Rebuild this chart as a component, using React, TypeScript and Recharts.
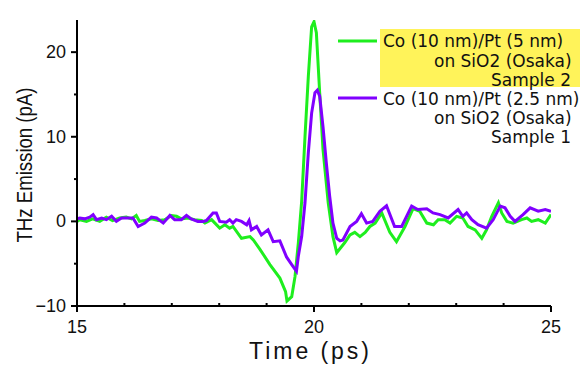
import React from 'react';
import { LineChart, Line, XAxis, YAxis } from 'recharts';

const greenTime = [
  15.0, 15.06, 15.2, 15.33, 15.48, 15.62, 15.75, 15.9, 16.04, 16.15,
  16.25, 16.32, 16.43, 16.57, 16.71, 16.85, 16.99, 17.1, 17.2, 17.34,
  17.48, 17.63, 17.7, 17.84, 18.01, 18.12, 18.22, 18.29, 18.47, 18.65,
  18.72, 18.86, 19.07, 19.28, 19.4, 19.43, 19.53, 19.6, 19.67, 19.74,
  19.81, 19.88, 19.95, 20.0, 20.05, 20.12, 20.19, 20.3, 20.4, 20.48,
  20.65, 20.76, 20.86, 20.97, 21.08, 21.18, 21.29, 21.43, 21.6, 21.74,
  21.92, 22.09, 22.23, 22.38, 22.52, 22.62, 22.76, 22.87, 23.01, 23.14,
  23.25, 23.4, 23.54, 23.64, 23.75, 23.89, 23.96, 24.07, 24.2, 24.38,
  24.49, 24.59, 24.73, 24.88, 25.0,
];
const greenValue = [
  0.0, 0.2, 0.0, 0.3, 0.0, 0.5, 0.1, 0.4, 0.5, 0.3,
  0.7, 0.0, 0.1, 0.3, 0.1, 0.2, 0.7, 0.6, 0.3, 0.4,
  0.2, 0.1, -0.2, 0.2, -0.8, -0.4, -0.8, -0.6, -2.0, -1.8,
  -2.2, -3.3, -5.1, -6.7, -8.3, -9.4, -8.9, -6.5, -2.5, 2.4,
  10.0, 17.1, 23.0, 23.6, 22.3, 15.2, 8.5, 2.2, -1.8, -3.7,
  -2.5, -1.6, -1.3, -1.8, -1.3, -0.6, -0.2, 1.0, -1.3, -2.4,
  -0.6, 1.5, 1.2, -0.2, -0.4, 0.2, 0.2, -0.2, 0.6, 0.4,
  -0.6, -1.0, -2.0, -1.0, 0.6, 2.2, 1.0, 0.0, -0.2, 0.2,
  0.4, 0.0, 0.2, -0.2, 0.8,
];

const purpleTime = [
  15.0, 15.06, 15.16, 15.27, 15.34, 15.41, 15.52, 15.62, 15.73, 15.83,
  15.94, 16.04, 16.18, 16.29, 16.43, 16.57, 16.68, 16.82, 16.96, 17.06,
  17.2, 17.31, 17.41, 17.55, 17.66, 17.73, 17.87, 17.94, 18.01, 18.15,
  18.22, 18.29, 18.36, 18.47, 18.58, 18.63, 18.68, 18.79, 18.89, 19.03,
  19.14, 19.28, 19.42, 19.53, 19.63, 19.67, 19.74, 19.81, 19.88, 19.95,
  20.02, 20.07, 20.12, 20.19, 20.26, 20.33, 20.4, 20.48, 20.55, 20.61,
  20.76, 20.9, 21.0, 21.11, 21.24, 21.39, 21.53, 21.7, 21.85, 22.06,
  22.19, 22.38, 22.51, 22.66, 22.83, 23.04, 23.14, 23.22, 23.33, 23.46,
  23.64, 23.78, 23.93, 24.03, 24.14, 24.24, 24.41, 24.56, 24.73, 24.88,
  25.0,
];
const purpleValue = [
  0.3, 0.4, 0.3, 0.5, 0.8, 0.2, 0.4, 0.2, 0.6, 0.0,
  0.4, 0.4, 0.4, -0.6, -0.2, 0.5, 0.4, -0.2, 0.7, 0.2,
  0.2, 0.7, 0.3, 0.0, 0.0, 0.1, 1.0, 1.0, 0.0, -0.1,
  0.2, -0.2, 0.2, 0.0, -0.4, 0.1, -1.0, -0.6, -1.6, -1.0,
  -2.4, -2.3, -4.2, -5.1, -5.9, -4.1, -1.8, 2.2, 8.1, 12.8,
  15.2, 15.5, 14.8, 11.2, 6.9, 3.0, -0.2, -2.0, -2.3, -2.2,
  -0.6, 0.0, 0.9, -0.2, 0.0, 1.2, 1.85, -0.6, -0.6, 1.8,
  1.4, 1.5, 1.0, 0.8, 0.4, 1.4, 0.6, 1.0, 0.2, -0.4,
  -0.8, 0.2, 1.8, 1.6, 0.6, 0.0, 0.8, 1.6, 1.2, 1.4,
  1.2,
];

const xTicks = [15, 16, 17, 18, 19, 20, 21, 22, 23, 24, 25];
const xLabels = [15, 20, 25];
const yTicks = [-10, -5, 0, 5, 10, 15, 20];
const yLabels = [-10, 0, 10, 20];

const legendGreen = ['Co (10 nm)/Pt (5 nm)', 'on SiO2 (Osaka)', 'Sample 2'];
const legendPurple = ['Co (10 nm)/Pt (2.5 nm)', 'on SiO2 (Osaka)', 'Sample 1'];

const GREEN = '#1EEE1E';
const PURPLE = '#8000FF';

const greenData = greenTime.map((t, i) => ({ t, v: greenValue[i] }));
const purpleData = purpleTime.map((t, i) => ({ t, v: purpleValue[i] }));

const fmt = (v: number) => (v < 0 ? '\u2212' + Math.abs(v) : String(v));

const YTick = (props: any) => {
  const { x, y, payload } = props;
  const major = yLabels.includes(payload.value);
  return (
    <g>
      <line x1={x} x2={x - (major ? 6 : 3)} y1={y} y2={y} stroke="#000" strokeWidth={2} />
      {major && (
        <text x={x - 11} y={y} textAnchor="end" dominantBaseline="central" fontSize={18}
          fontFamily="'Liberation Sans', Arial, sans-serif" fill="#111">
          {fmt(payload.value)}
        </text>
      )}
    </g>
  );
};

const XTick = (props: any) => {
  const { x, y, payload } = props;
  const major = xLabels.includes(payload.value);
  return (
    <g>
      <line x1={x} x2={x} y1={y} y2={major ? y + 6 : y - 3} stroke="#000" strokeWidth={2} />
      {major && (
        <text x={x} y={y + 27} textAnchor="middle" fontSize={18}
          fontFamily="'Liberation Sans', Arial, sans-serif" fill="#111">
          {fmt(payload.value)}
        </text>
      )}
    </g>
  );
};

const legendFont = "'DejaVu Sans', sans-serif";
const legendSize = 17;

export default function App() {
  return (
    <div style={{ position: 'absolute', left: 0, top: 0, width: 583, height: 367, background: '#fff', overflow: 'hidden' }}>
      <LineChart width={583} height={367} margin={{ top: 20, right: 32, left: 0, bottom: 0 }}>
        <XAxis
          type="number"
          dataKey="t"
          domain={[15, 25]}
          ticks={xTicks}
          allowDataOverflow
          height={61}
          tickSize={0}
          tickMargin={0}
          tickLine={false}
          axisLine={{ stroke: '#000', strokeWidth: 2 }}
          tick={<XTick />}
          interval={0}
        />
        <YAxis
          type="number"
          domain={[-10, 23.8]}
          ticks={yTicks}
          allowDataOverflow
          width={77}
          tickSize={0}
          tickMargin={0}
          tickLine={false}
          axisLine={{ stroke: '#000', strokeWidth: 2 }}
          tick={<YTick />}
          interval={0}
        />
        <Line data={greenData} dataKey="v" type="linear" stroke={GREEN} strokeWidth={3}
          dot={false} isAnimationActive={false} />
        <Line data={purpleData} dataKey="v" type="linear" stroke={PURPLE} strokeWidth={3}
          dot={false} isAnimationActive={false} />
      </LineChart>
      <svg width={583} height={367} style={{ position: 'absolute', left: 0, top: 0, pointerEvents: 'none' }}>
        <text x={24} y={165} transform="rotate(-90 24 165)" textAnchor="middle" dominantBaseline="central"
          fontSize={22} fontFamily="'Liberation Sans', Arial, sans-serif" fill="#111"
          textLength={155} lengthAdjust="spacingAndGlyphs">
          THz Emission (pA)
        </text>
        <text x={309} y={359} textAnchor="middle" fontSize={23}
          fontFamily="'Liberation Sans', Arial, sans-serif" fill="#111"
          textLength={120} lengthAdjust="spacing">
          Time (ps)
        </text>
        <rect x={380} y={29} width={200} height={58} fill="#FFF35A" />
        <line x1={338} x2={377} y1={41} y2={41} stroke={GREEN} strokeWidth={3} />
        <text x={383} y={41} dominantBaseline="central" fontSize={legendSize}
          fontFamily={legendFont} fill="#111">{legendGreen[0]}</text>
        <text x={434} y={61} dominantBaseline="central" fontSize={legendSize}
          fontFamily={legendFont} fill="#111">{legendGreen[1]}</text>
        <text x={491} y={80} dominantBaseline="central" fontSize={legendSize}
          fontFamily={legendFont} fill="#111">{legendGreen[2]}</text>
        <line x1={338} x2={377} y1={98} y2={98} stroke={PURPLE} strokeWidth={3} />
        <text x={383} y={99} dominantBaseline="central" fontSize={legendSize}
          fontFamily={legendFont} fill="#111">{legendPurple[0]}</text>
        <text x={434} y={118} dominantBaseline="central" fontSize={legendSize}
          fontFamily={legendFont} fill="#111">{legendPurple[1]}</text>
        <text x={491} y={137} dominantBaseline="central" fontSize={legendSize}
          fontFamily={legendFont} fill="#111">{legendPurple[2]}</text>
      </svg>
    </div>
  );
}
